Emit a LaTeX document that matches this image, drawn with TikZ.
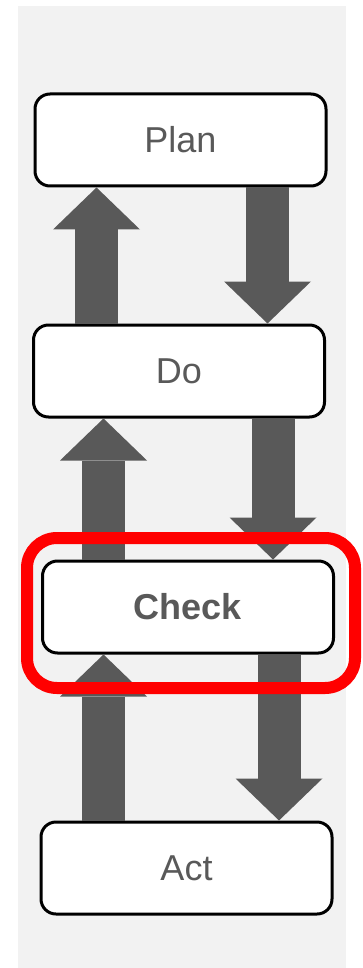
\documentclass[tikz,border=0pt]{standalone}
\usepackage{fontspec}
\setmainfont{Liberation Sans}
\usetikzlibrary{arrows.meta}
\definecolor{flowgray}{HTML}{595959}
\definecolor{panelgray}{HTML}{F2F2F2}

\begin{document}
\begin{tikzpicture}[x=1pt,y=-1pt,
  stage/.style={rectangle,draw=black,line width=3pt,rounded corners=15pt,fill=white,
    minimum width=291pt,minimum height=92pt,inner sep=0pt,text=flowgray,
    font=\fontsize{36}{43}\selectfont},
  flow/.style={draw=flowgray,line width=43pt,-{Triangle[width=87pt,length=42pt,line width=0pt]}}]
\useasboundingbox (0,0) rectangle (362,968);
\fill[panelgray] (18,6) rectangle (346,968);
\node[stage] (plan) at (180.5,140) {Plan};
\node[stage] (do) at (179,371) {Do};
\node[stage] (check) at (188,607) {\bfseries Check};
\node[stage] (act) at (186.5,868) {Act};
% up: lower step back to upper step
\draw[flow] (96.5,0 |- do.north) -- (96.5,0 |- plan.south);
\draw[flow] (103.5,0 |- check.north) -- (103.5,0 |- do.south);
\draw[flow] (103.5,0 |- act.north) -- (103.5,0 |- check.south);
% down: upper step on to lower step
\draw[flow] (267.5,0 |- plan.south) -- (267.5,0 |- do.north);
\draw[flow] (273,0 |- do.south) -- (273,0 |- check.north);
\draw[flow] (279,0 |- check.south) -- (279,0 |- act.north);
% highlight
\draw[red,line width=12pt,rounded corners=30pt] (27,538) rectangle (355,688);
\end{tikzpicture}
\end{document}
